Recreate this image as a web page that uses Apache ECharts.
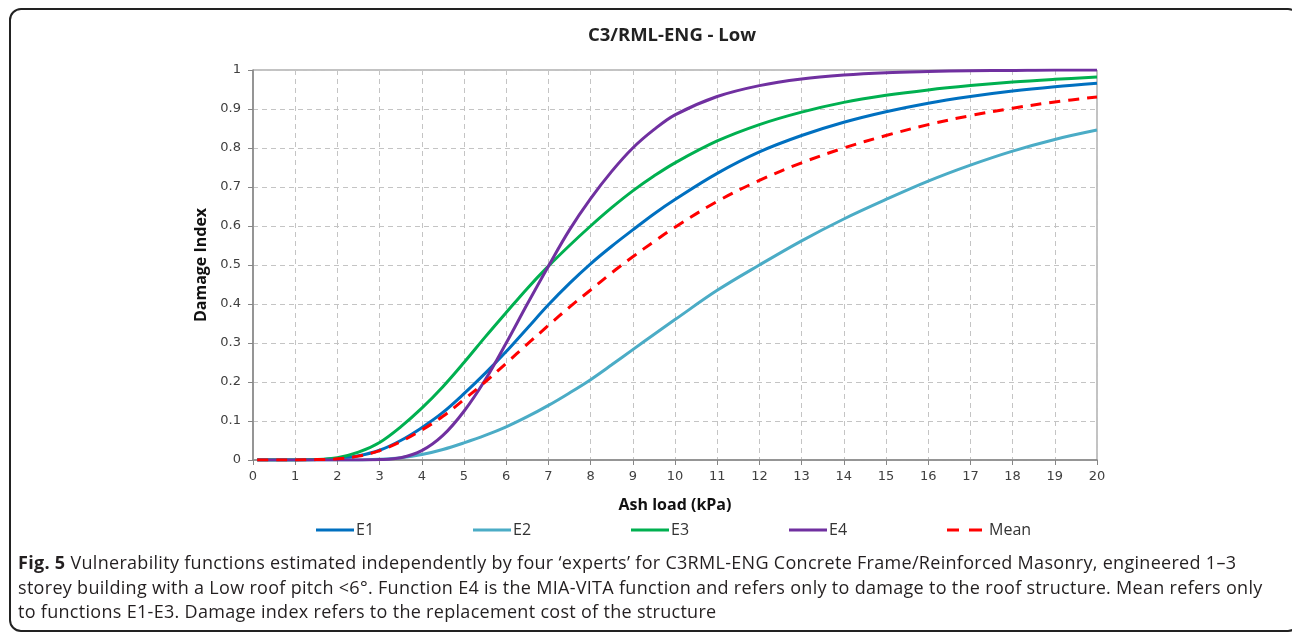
<!DOCTYPE html>
<html>
<head>
<meta charset="utf-8">
<script src="https://cdn.jsdelivr.net/npm/echarts@6/dist/echarts.min.js"></script>
<style>
  html, body { margin: 0; padding: 0; background: #fff; }
  #wrap { position: relative; width: 1292px; height: 632px; overflow: hidden; }
  #chart { position: absolute; left: 0; top: 0; width: 1292px; height: 632px; }
  #frame {
    position: absolute; left: 9px; top: 8px; width: 1287px; height: 620px;
    border: 2px solid #222; border-radius: 12px; pointer-events: none;
  }
  #caption {
    position: absolute; left: 18px; top: 550px; width: 1270px;
    font-family: "Open Sans", sans-serif; font-size: 18px; letter-spacing: 0.3px;
    line-height: 24.5px; color: #231f20; white-space: nowrap;
  }
  #caption b { font-weight: 700; }
</style>
</head>
<body>
<div id="wrap">
  <div id="chart"></div>
  <div id="frame"></div>
  <div id="caption">
    <b>Fig. 5</b> Vulnerability functions estimated independently by four ‘experts’ for C3RML-ENG Concrete Frame/Reinforced Masonry, engineered 1–3<br>
    storey building with a Low roof pitch &lt;6°. Function E4 is the MIA-VITA function and refers only to damage to the roof structure. Mean refers only<br>
    to functions E1-E3. Damage index refers to the replacement cost of the structure
  </div>
</div>
<script>
// ash load (kPa) sample points
var ashLoad = [0.1, 0.5, 1, 1.5, 2, 2.5, 3, 3.5, 4, 4.5, 5, 5.5, 6, 6.5, 7, 7.5, 8, 8.5, 9, 9.5, 10, 11, 12, 13, 14, 15, 16, 17, 18, 19, 20];

// damage index
var e1 = [0, 0, 0, 0.001, 0.004, 0.011, 0.025, 0.05, 0.083, 0.122, 0.17, 0.222, 0.278, 0.338, 0.398, 0.453, 0.503, 0.548, 0.59, 0.631, 0.668, 0.735, 0.79, 0.832, 0.866, 0.893, 0.915, 0.932, 0.946, 0.957, 0.966];
var e2 = [0, 0, 0, 0, 0, 0, 0.002, 0.006, 0.014, 0.027, 0.044, 0.063, 0.085, 0.111, 0.14, 0.172, 0.206, 0.244, 0.283, 0.322, 0.36, 0.435, 0.5, 0.562, 0.618, 0.668, 0.715, 0.756, 0.792, 0.822, 0.846];
var e3 = [0, 0, 0, 0.001, 0.006, 0.02, 0.045, 0.085, 0.133, 0.188, 0.25, 0.315, 0.378, 0.44, 0.497, 0.55, 0.6, 0.647, 0.69, 0.728, 0.762, 0.818, 0.86, 0.892, 0.917, 0.935, 0.949, 0.96, 0.969, 0.976, 0.982];
var e4 = [0, 0, 0, 0, 0, 0, 0.001, 0.006, 0.024, 0.063, 0.125, 0.205, 0.3, 0.4, 0.497, 0.59, 0.67, 0.74, 0.8, 0.847, 0.885, 0.932, 0.96, 0.977, 0.987, 0.993, 0.996, 0.998, 0.999, 1, 1];
var mean = [0, 0, 0, 0.001, 0.003, 0.01, 0.024, 0.047, 0.077, 0.112, 0.155, 0.2, 0.248, 0.297, 0.345, 0.392, 0.436, 0.48, 0.521, 0.56, 0.597, 0.663, 0.717, 0.762, 0.8, 0.832, 0.86, 0.883, 0.902, 0.918, 0.931];

var yTicks = ['0', '0.1', '0.2', '0.3', '0.4', '0.5', '0.6', '0.7', '0.8', '0.9', '1'];

var seriesNames = ['E1', 'E2', 'E3', 'E4', 'Mean'];
var seriesColors = ['#0070c0', '#4bacc6', '#00b050', '#7030a0', '#ff0000'];
var seriesData = [e1, e2, e3, e4, mean];
var legendLeft = [311, 468, 626, 784, 942];

function pairs(ys) {
  return ashLoad.map(function (x, i) { return [x, ys[i]]; });
}

var chart = echarts.init(document.getElementById('chart'));

var series = seriesNames.map(function (name, i) {
  return {
    name: name,
    type: 'line',
    data: pairs(seriesData[i]),
    smooth: 0.35,
    showSymbol: false,
    symbol: 'none',
    z: name === 'Mean' ? 5 : 3,
    lineStyle: {
      color: seriesColors[i],
      width: 3,
      type: name === 'Mean' ? [11, 8] : 'solid'
    },
    itemStyle: { color: seriesColors[i] }
  };
});

// one legend per entry so the gaps match the picture
var legends = seriesNames.map(function (name, i) {
  var isMean = name === 'Mean';
  return {
    data: [name],
    left: legendLeft[i],
    top: 517,
    icon: isMean ? 'path://M0,0h12v3h-12z M22,0h13v3h-13z' : 'rect',
    itemWidth: isMean ? 35 : 38,
    itemHeight: 3,
    itemGap: 0,
    textStyle: { fontFamily: 'Open Sans', fontSize: 16, color: '#333', padding: [0, 0, 0, isMean ? 2 : -3] }
  };
});

chart.setOption({
  animation: false,
  backgroundColor: '#fff',
  title: {
    text: 'C3/RML-ENG - Low',
    left: 667,
    textAlign: 'center',
    top: 21,
    textStyle: { fontFamily: 'Open Sans', fontSize: 18.5, fontWeight: 'bold', color: '#222' }
  },
  legend: legends,
  grid: {
    left: 253, right: 195, top: 70, bottom: 172,
    show: true, borderColor: '#868686', borderWidth: 1
  },
  xAxis: {
    type: 'value',
    min: 0, max: 20, interval: 1,
    name: 'Ash load (kPa)',
    nameLocation: 'middle',
    nameGap: 37,
    nameTextStyle: { fontFamily: 'Open Sans', fontSize: 16, fontWeight: 'bold', color: '#111' },
    axisLine: { show: true, lineStyle: { color: '#868686', width: 1.5 } },
    axisTick: { show: true, length: 5, lineStyle: { color: '#868686' } },
    axisLabel: { margin: 10, fontFamily: 'DejaVu Sans', fontSize: 13, color: '#404040' },
    splitLine: { show: true, lineStyle: { color: '#c4c4c4', type: [5, 4] } }
  },
  yAxis: {
    type: 'value',
    min: 0, max: 1, interval: 0.1,
    name: 'Damage Index',
    nameLocation: 'middle',
    nameGap: 35,
    nameRotate: 90,
    nameTextStyle: { fontFamily: 'Open Sans', fontSize: 16, fontWeight: 'bold', color: '#111' },
    axisLine: { show: true, lineStyle: { color: '#868686', width: 1.5 } },
    axisTick: { show: true, length: 5, lineStyle: { color: '#868686' } },
    axisLabel: {
      margin: 12, fontFamily: 'DejaVu Sans', fontSize: 13, color: '#404040',
      formatter: function (v) { return yTicks[Math.round(v * 10)]; }
    },
    splitLine: { show: true, lineStyle: { color: '#c4c4c4', type: [5, 4] } }
  },
  series: series
});
</script>
</body>
</html>
